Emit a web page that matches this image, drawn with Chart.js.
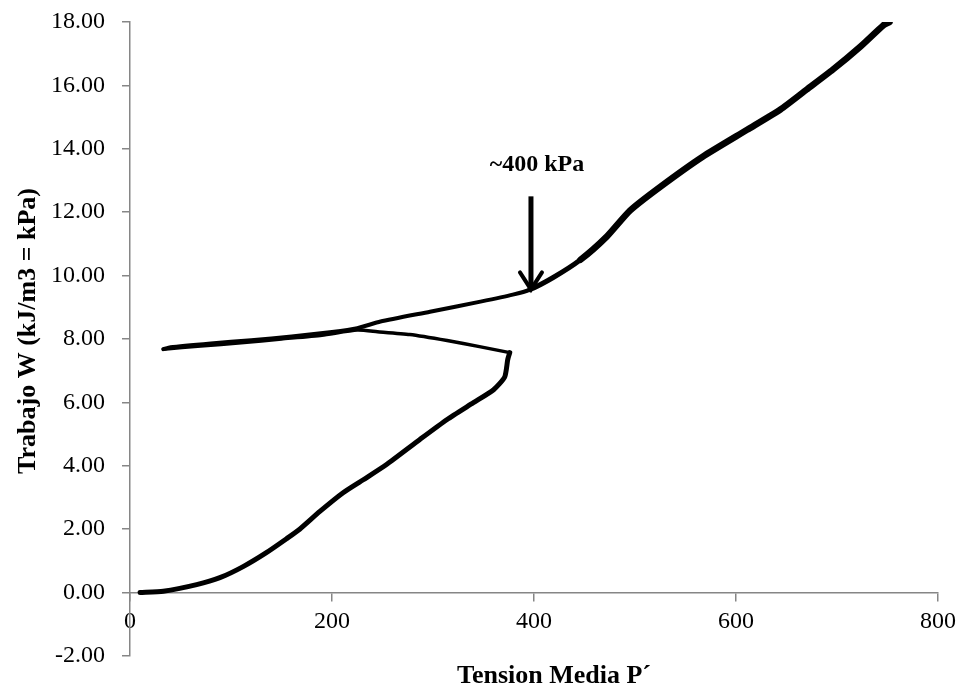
<!DOCTYPE html>
<html>
<head>
<meta charset="utf-8">
<title>Trabajo W - Tension Media P´</title>
<script src="https://cdn.jsdelivr.net/npm/chart.js@4/dist/chart.umd.min.js"></script>
<style>
  body { margin: 0; background: #fff; }
</style>
</head>
<body>
<canvas id="chart" width="966" height="690"></canvas>
<script>
// first loading branch: P´ (kPa) and W (kJ/m3)
const loadP = [10, 33, 66, 89, 112, 135, 155, 168, 188, 211, 231, 254, 287, 314, 340, 360, 371, 374, 376]
const loadW = [0.0, 0.04, 0.25, 0.47, 0.82, 1.26, 1.70, 2.00, 2.56, 3.15, 3.56, 4.04, 4.83, 5.46, 5.99, 6.4, 6.8, 7.35, 7.57]

// unloading back to low tension
const unloadP = [376, 346, 314, 277, 245, 225, 190, 150, 110, 70, 33]
const unloadW = [7.57, 7.76, 7.95, 8.14, 8.23, 8.28, 8.12, 8.0, 7.88, 7.78, 7.68]

// reloading past the previous maximum
const reloadP = [33, 40, 80, 120, 160, 200, 225, 248, 297, 347, 379, 396, 419, 446, 472, 495, 525, 567, 611, 644, 670, 696, 723, 746, 752]
const reloadW = [7.68, 7.74, 7.86, 7.96, 8.08, 8.22, 8.34, 8.55, 8.86, 9.18, 9.40, 9.56, 9.94, 10.5, 11.23, 12.05, 12.8, 13.75, 14.6, 15.24, 15.87, 16.5, 17.22, 17.9, 18.0]

const xTicks = [0, 200, 400, 600, 800]
const yTicks = [-2, 0, 2, 4, 6, 8, 10, 12, 14, 16, 18]

const xTitle = 'Tension Media P´'
const yTitle = 'Trabajo W (kJ/m3 = kPa)'
const arrowLabel = '~400 kPa'
const arrowP = 397
const arrowFrom = 12.5
const arrowTo = 9.5

const serif = '"Liberation Serif", "Times New Roman", serif'
const axisGray = '#868686'

const toPoints = (xs, ys) => xs.map((x, i) => ({x, y: ys[i]}))

const curve = (data, width) => ({
  data,
  showLine: true,
  pointRadius: 0,
  borderColor: '#000',
  borderWidth: width,
  borderJoinStyle: 'round',
  borderCapStyle: 'round',
  tension: 0.2,
})

// the trace gets heavier once it climbs past the yield point
const reloadWidth = ctx => {
  const p = ctx.p1.parsed.x
  if (p > 470) return 6.5
  if (p > 400) return 5
  return 4
}

/** Axis titles and the arrow pointing at the yield point. */
const annotations = {
  id: 'annotations',
  afterDraw(chart) {
    const {ctx, chartArea, scales: {x, y}} = chart
    ctx.save()
    ctx.fillStyle = '#000'
    ctx.strokeStyle = '#000'
    ctx.textAlign = 'center'
    ctx.textBaseline = 'middle'

    ctx.font = `bold 26px ${serif}`
    ctx.fillText(xTitle, (chartArea.left + chartArea.right) / 2 + 20, 676)

    ctx.save()
    ctx.translate(28, (chartArea.top + chartArea.bottom) / 2 - 8)
    ctx.rotate(-Math.PI / 2)
    ctx.fillText(yTitle, 0, 0)
    ctx.restore()

    const ax = x.getPixelForValue(arrowP)
    const top = y.getPixelForValue(arrowFrom)
    const tip = y.getPixelForValue(arrowTo)
    ctx.font = `bold 24px ${serif}`
    ctx.fillText(arrowLabel, ax + 6, top - 32)

    ctx.lineWidth = 5
    ctx.beginPath()
    ctx.moveTo(ax, top)
    ctx.lineTo(ax, tip - 4)
    ctx.stroke()

    ctx.lineWidth = 4
    ctx.lineCap = 'round'
    ctx.beginPath()
    ctx.moveTo(ax - 11, tip - 19)
    ctx.lineTo(ax, tip - 2)
    ctx.lineTo(ax + 11, tip - 19)
    ctx.stroke()
    ctx.restore()
  },
}

const tickFont = {family: serif, size: 24}
const axisGrid = {
  display: true,
  drawOnChartArea: false,
  drawTicks: true,
  tickLength: 8,
  color: axisGray,
  lineWidth: 1.5,
}

new Chart('chart', {
  type: 'scatter',
  data: {
    datasets: [
      curve(toPoints(loadP, loadW), 5),
      curve(toPoints(unloadP, unloadW), 3.5),
      {
        ...curve(toPoints(reloadP, reloadW), 4),
        segment: {borderWidth: reloadWidth},
      },
    ],
  },
  options: {
    responsive: false,
    animation: false,
    layout: {padding: {left: 0, top: 22, right: 28, bottom: 34}},
    scales: {
      x: {
        type: 'linear',
        position: {y: 0},
        min: 0,
        max: 800,
        afterBuildTicks: scale => {
          scale.ticks = xTicks.map(value => ({value}))
        },
        ticks: {color: '#000', font: tickFont, padding: 7, maxRotation: 0},
        grid: axisGrid,
        border: {color: axisGray, width: 1.5},
      },
      y: {
        type: 'linear',
        min: -2,
        max: 18,
        afterBuildTicks: scale => {
          scale.ticks = yTicks.map(value => ({value}))
        },
        afterFit: scale => {
          // fixed gutter; the label padding should not push the plot down
          scale.width = 130
          scale.paddingTop = 14
          scale.paddingBottom = 14
        },
        ticks: {
          color: '#000',
          font: tickFont,
          padding: 17,
          callback: v => v.toFixed(2),
        },
        grid: axisGrid,
        border: {color: axisGray, width: 1.5},
      },
    },
    plugins: {
      legend: {display: false},
      tooltip: {enabled: false},
    },
  },
  plugins: [annotations],
})
</script>
</body>
</html>
